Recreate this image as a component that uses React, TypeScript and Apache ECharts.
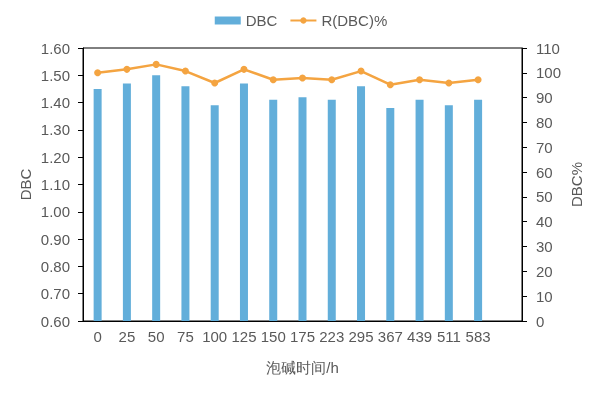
import React, { useEffect, useRef } from "react";
import * as echarts from "echarts";

const categories = ["0", "25", "50", "75", "100", "125", "150", "175", "223", "295", "367", "439", "511", "583", ""];
const dbcValues = [1.45, 1.47, 1.5, 1.46, 1.39, 1.47, 1.41, 1.42, 1.41, 1.46, 1.38, 1.41, 1.39, 1.41];
const ratioValues = [100, 101.4, 103.4, 100.7, 95.9, 101.4, 97.2, 97.9, 97.2, 100.7, 95.2, 97.2, 95.9, 97.2];

const TEXT = "#595959";
const FONT = "Liberation Sans, Arial, sans-serif";

export default function App() {
  const ref = useRef<HTMLDivElement>(null);
  useEffect(() => {
    if (!ref.current) return;
    const chart = echarts.init(ref.current, null, { renderer: "svg" });
    chart.setOption({
      animation: false,
      textStyle: { fontFamily: FONT, color: TEXT },
      legend: {
        top: 8,
        left: "center",
        itemWidth: 26,
        itemHeight: 8,
        itemGap: 12,
        textStyle: { fontSize: 15, color: TEXT, fontFamily: FONT },
        data: [
          { name: "DBC", icon: "rect" },
          { name: "R(DBC)%" },
        ],
      },
      grid: {
        left: 83,
        right: 80,
        top: 48,
        bottom: 76,
        show: true,
        borderColor: "#000",
        borderWidth: 1,
        backgroundColor: "transparent",
      },
      xAxis: {
        type: "category",
        data: categories,
        name: "泡碱时间/h",
        nameLocation: "middle",
        nameGap: 39,
        nameMoveOverlap: false,
        nameTextStyle: { fontSize: 15, color: TEXT, fontFamily: FONT },
        axisLine: { lineStyle: { color: "#000" } },
        axisTick: { alignWithLabel: true, length: 5, lineStyle: { color: "#000" } },
        axisLabel: { interval: 0, fontSize: 15, color: TEXT, margin: 8, fontFamily: FONT },
        splitLine: { show: false },
      },
      yAxis: [
        {
          type: "value",
          min: 0.6,
          max: 1.6,
          interval: 0.1,
          name: "DBC",
          nameLocation: "middle",
          nameRotate: 90,
          nameGap: 50,
          nameMoveOverlap: false,
          nameTextStyle: { fontSize: 15, color: TEXT, fontFamily: FONT },
          axisLine: { show: true, lineStyle: { color: "#000" } },
          axisTick: { show: true, length: 5, lineStyle: { color: "#000" } },
          axisLabel: {
            fontSize: 15,
            color: TEXT,
            margin: 13,
            fontFamily: FONT,
            formatter: (v: number) => v.toFixed(2),
          },
          splitLine: { show: false },
        },
        {
          type: "value",
          min: 0,
          max: 110,
          interval: 10,
          name: "DBC%",
          nameLocation: "middle",
          nameRotate: 90,
          nameGap: 47,
          nameMoveOverlap: false,
          nameTextStyle: { fontSize: 15, color: TEXT, fontFamily: FONT },
          axisLine: { show: true, lineStyle: { color: "#000" } },
          axisTick: { show: true, length: 5, lineStyle: { color: "#000" } },
          axisLabel: { fontSize: 15, color: TEXT, margin: 14, fontFamily: FONT },
          splitLine: { show: false },
        },
      ],
      series: [
        {
          name: "DBC",
          type: "bar",
          data: dbcValues,
          barWidth: 8,
          itemStyle: { color: "#62AEDA" },
          yAxisIndex: 0,
        },
        {
          name: "R(DBC)%",
          type: "line",
          data: ratioValues,
          yAxisIndex: 1,
          symbol: "circle",
          symbolSize: 7,
          lineStyle: { color: "#F4A441", width: 2.5 },
          itemStyle: { color: "#F4A441" },
        },
      ],
    });
    return () => chart.dispose();
  }, []);
  return (
    <div
      ref={ref}
      style={{ position: "fixed", left: 0, top: 0, width: 602, height: 397 }}
    />
  );
}
